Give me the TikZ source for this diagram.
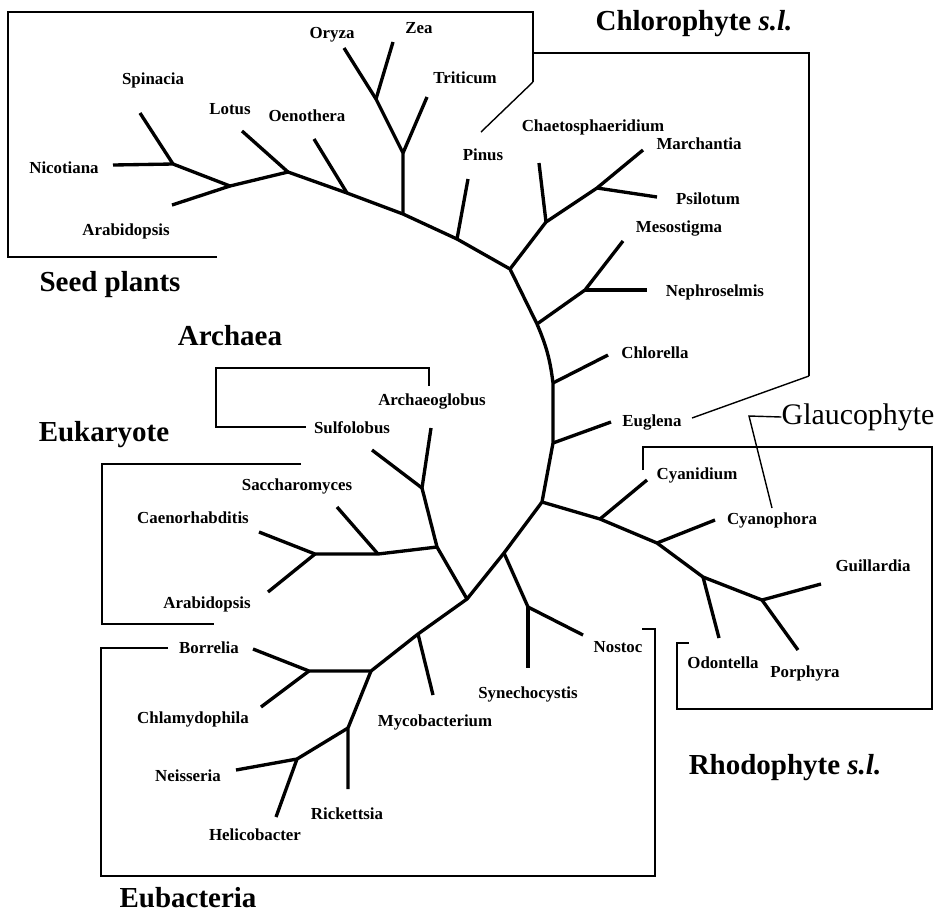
\documentclass[tikz,border=0pt]{standalone}
\usepackage{fontspec}
\setmainfont{Liberation Serif}
\usetikzlibrary{positioning}
\tikzset{
  branch/.style={line width=1.9pt, line join=round},
  box/.style={line width=1.1pt},
  thinbox/.style={line width=0.8pt},
  taxon/.style={font=\fontsize{9.6}{11}\selectfont\bfseries, inner sep=0pt},
  clade/.style={font=\fontsize{16.5}{19}\selectfont\bfseries, inner sep=0pt}
}
\begin{document}
\begin{tikzpicture}[x=0.02cm, y=-0.02cm]
\useasboundingbox (0,0) rectangle (943,914);
\coordinate (n1) at (173,164);
\coordinate (n2) at (230,186);
\coordinate (n3) at (288,172);
\coordinate (n4) at (347,193);
\coordinate (n5) at (403,214);
\coordinate (n6) at (403,153);
\coordinate (n7) at (376,99);
\coordinate (n8) at (457,239);
\coordinate (n9) at (510,269);
\coordinate (n10) at (546,222);
\coordinate (n11) at (597,188);
\coordinate (n12) at (537,324);
\coordinate (n13) at (585,290);
\coordinate (n14) at (553,383);
\coordinate (n15) at (553,443);
\coordinate (n16) at (542,502);
\coordinate (n17) at (600,519);
\coordinate (n18) at (657,543);
\coordinate (n19) at (703,577);
\coordinate (n20) at (762,600);
\coordinate (n21) at (528,607);
\coordinate (n22) at (504,553);
\coordinate (n23) at (467,599);
\coordinate (n24) at (422,488);
\coordinate (n25) at (437,547);
\coordinate (n26) at (378,554);
\coordinate (n27) at (315,554);
\coordinate (n28) at (309,671);
\coordinate (n29) at (371,671);
\coordinate (n30) at (418,634);
\coordinate (n31) at (348,728);
\coordinate (n32) at (297,759);
\coordinate (tnic) at (113,165);
\coordinate (tspi) at (140,113);
\coordinate (tara) at (172,205);
\coordinate (tlot) at (242,131);
\coordinate (toen) at (314,139);
\coordinate (ttri) at (427,97);
\coordinate (tory) at (344,48);
\coordinate (tzea) at (393,42);
\coordinate (tpin) at (468,179);
\coordinate (tcha) at (539,163);
\coordinate (tmar) at (643,150);
\coordinate (tpsi) at (657,197);
\coordinate (tmes) at (623,241);
\coordinate (tnep) at (647,290);
\coordinate (tchl) at (608,355);
\coordinate (teug) at (611,422);
\coordinate (tcyd) at (647,480);
\coordinate (tcyp) at (715,520);
\coordinate (todo) at (719,638);
\coordinate (tgui) at (821,584);
\coordinate (tpor) at (798,650);
\coordinate (tnos) at (583,635);
\coordinate (tsyn) at (528,668);
\coordinate (tarc) at (431,428);
\coordinate (tsul) at (372,450);
\coordinate (tsac) at (337,507);
\coordinate (tcae) at (259,532);
\coordinate (tarb) at (268,592);
\coordinate (tbor) at (253,649);
\coordinate (tchm) at (261,707);
\coordinate (tmyc) at (433,695);
\coordinate (tric) at (348,789);
\coordinate (tnei) at (236,770);
\coordinate (thel) at (276,817);
\draw[branch] (tnic) -- (n1) -- (n2) -- (n3) -- (n4) -- (n5) -- (n8) -- (n9) -- (n12) to[bend left=8] (n14) -- (n15) -- (n16) -- (n22) -- (n23) -- (n30) -- (n29) -- (n28) -- (tbor);
\draw[branch] (tspi) -- (n1);
\draw[branch] (tara) -- (n2);
\draw[branch] (tlot) -- (n3);
\draw[branch] (toen) -- (n4);
\draw[branch] (n5) -- (n6) -- (n7) -- (tory);
\draw[branch] (n7) -- (tzea);
\draw[branch] (n6) -- (ttri);
\draw[branch] (tpin) -- (n8);
\draw[branch] (n9) -- (n10) -- (n11) -- (tmar);
\draw[branch] (tcha) -- (n10);
\draw[branch] (n11) -- (tpsi);
\draw[branch] (n12) -- (n13) -- (tmes);
\draw[branch] (n13) -- (tnep);
\draw[branch] (n14) -- (tchl);
\draw[branch] (n15) -- (teug);
\draw[branch] (n16) -- (n17) -- (n18) -- (n19) -- (n20) -- (tgui);
\draw[branch] (n17) -- (tcyd);
\draw[branch] (n18) -- (tcyp);
\draw[branch] (n19) -- (todo);
\draw[branch] (n20) -- (tpor);
\draw[branch] (n22) -- (n21) -- (tnos);
\draw[branch] (n21) -- (tsyn);
\draw[branch] (n23) -- (n25) -- (n24) -- (tarc);
\draw[branch] (n24) -- (tsul);
\draw[branch] (n25) -- (n26) -- (n27) -- (tcae);
\draw[branch] (n26) -- (tsac);
\draw[branch] (n27) -- (tarb);
\draw[branch] (n28) -- (tchm);
\draw[branch] (n30) -- (tmyc);
\draw[branch] (n29) -- (n31) -- (tric);
\draw[branch] (n31) -- (n32) -- (tnei);
\draw[branch] (n32) -- (thel);
\node[taxon] (nicotiana) at (64,168) {Nicotiana};
\node[taxon] (spinacia) at (153,80) {Spinacia};
\node[taxon] (arabidopsisA) at (126,231) {Arabidopsis};
\node[taxon] (lotus) at (230,109) {Lotus};
\node[taxon] (oenothera) at (307,116) {Oenothera};
\node[taxon] (triticum) at (465,78) {Triticum};
\node[taxon] (oryza) at (332,35) {Oryza};
\node[taxon] (zea) at (419,28) {Zea};
\node[taxon] (pinus) at (483,155) {Pinus};
\node[taxon] (chaeto) at (593,127) {Chaetosphaeridium};
\node[taxon] (marchantia) at (699,144) {Marchantia};
\node[taxon] (psilotum) at (708,199) {Psilotum};
\node[taxon] (mesostigma) at (679,228) {Mesostigma};
\node[taxon] (nephroselmis) at (715,292) {Nephroselmis};
\node[taxon] (chlorella) at (655,353) {Chlorella};
\node[taxon] (euglena) at (652,422) {Euglena};
\node[taxon] (cyanidium) at (697,475) {Cyanidium};
\node[taxon] (cyanophora) at (772,520) {Cyanophora};
\node[taxon] (odontella) at (723,663) {Odontella};
\node[taxon] (guillardia) at (873,566) {Guillardia};
\node[taxon] (porphyra) at (805,673) {Porphyra};
\node[taxon] (nostoc) at (618,647) {Nostoc};
\node[taxon] (synechocystis) at (528,694) {Synechocystis};
\node[taxon] (mycobacterium) at (435,722) {Mycobacterium};
\node[taxon] (archaeoglobus) at (432,401) {Archaeoglobus};
\node[taxon] (sulfolobus) at (352,428) {Sulfolobus};
\node[taxon] (saccharomyces) at (297,486) {Saccharomyces};
\node[taxon] (caenorhabditis) at (193,518) {Caenorhabditis};
\node[taxon] (arabidopsisB) at (207,604) {Arabidopsis};
\node[taxon] (borrelia) at (209,648) {Borrelia};
\node[taxon] (chlamydophila) at (193,719) {Chlamydophila};
\node[taxon] (neisseria) at (188,776) {Neisseria};
\node[taxon] (helicobacter) at (255,835) {Helicobacter};
\node[taxon] (rickettsia) at (347,814) {Rickettsia};
\node[clade] (seed) at (110,285) {Seed plants};
\node[clade] (chloro) at (694,24) {Chlorophyte \textit{s.l.}};
\node[clade] (archaea) at (230,336) {Archaea};
\node[clade] (eukaryote) at (104,435) {Eukaryote};
\node[clade, font=\fontsize{17}{19}\selectfont] (glauco) at (858,417) {Glaucophyte};
\node[clade] (rhodo) at (785,768) {Rhodophyte \textit{s.l.}};
\node[clade] (eubacteria) at (188,898) {Eubacteria};
\draw[box] (217,257) -- (8,257) -- (8,12) -- (533,12) -- (533,82);
\draw[thinbox] (533,82) -- (481,132);
\draw[box] (533,53) -- (809,53) -- (809,376);
\draw[thinbox] (809,376) -- (692,418);
\draw[box] (429,386) -- (429,368) -- (216,368) -- (216,427) -- (306,427);
\draw[box] (301,464) -- (102,464) -- (102,624) -- (214,624);
\draw[box] (168,648) -- (101,648) -- (101,876) -- (655,876) -- (655,629) -- (642,629);
\draw[box] (643,470) -- (643,447) -- (932,447) -- (932,709) -- (677,709) -- (677,643) -- (689,643);
\draw[thinbox] (glauco.west) -- (749,416) -- (772,508);
\end{tikzpicture}
\end{document}
